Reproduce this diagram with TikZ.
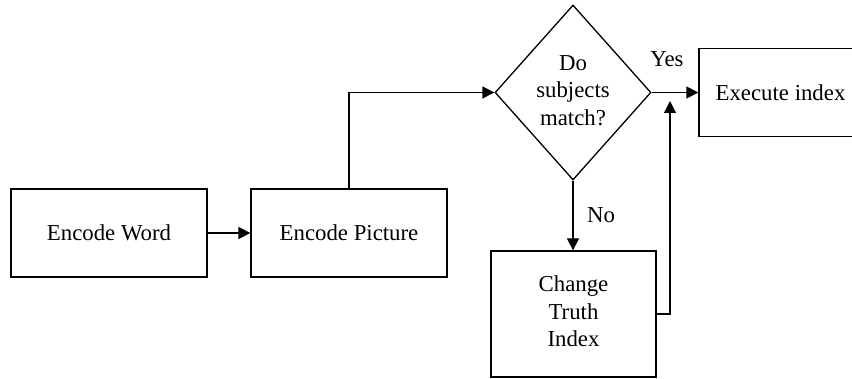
\documentclass[tikz,border=0pt]{standalone}
\usepackage{fontspec}
\setmainfont{Liberation Serif}
\usetikzlibrary{shapes.geometric,arrows.meta}
\newcommand\chartfont{\fontsize{22.8pt}{27.5pt}\selectfont}
% stacked lines, lifted slightly so the block sits a little above centre
\newcommand\liftlines[1]{\raisebox{4pt}{\begin{tabular}{@{}c@{}}#1\end{tabular}}}
\begin{document}
\begin{tikzpicture}[x=1pt,y=-1pt,line width=1.3pt,
  box/.style={draw,rectangle,inner sep=0pt,align=center,font=\chartfont},
  decision/.style={draw,diamond,inner sep=0pt,minimum width=156pt,minimum height=175pt,align=center,font=\chartfont},
  flow/.style={-{Triangle[length=12pt,width=12pt]}},
  tag/.style={font=\chartfont,inner sep=0pt}]
\useasboundingbox (0,0) rectangle (852,379);

\node[box,minimum width=196pt,minimum height=88pt] (ew) at (109,233) {Encode Word};
\node[box,minimum width=196pt,minimum height=88pt] (ep) at (349,233) {Encode Picture};
\node[decision] (dm) at (573,92.5) {\liftlines{Do\\subjects\\match?}};
\node[box,minimum width=163pt,minimum height=88pt] (ex) at (780.5,92.5) {Execute index};
\node[box,minimum width=165pt,minimum height=126pt] (ct) at (573.5,314) {\liftlines{Change\\Truth\\Index}};
\coordinate (fb) at (670,101);

\draw[flow] (ew) -- (ep);
\draw[flow] (ep.north) |- (dm.west);
\draw[flow] (dm.east) -- (ex.west);
\draw[flow] (dm.south) -- (dm.south |- ct.north);
\draw[flow] (ct.east) -| (fb);

\node[tag] (yes) at (667,59) {Yes};
\node[tag] (no) at (601,215) {No};
\end{tikzpicture}
\end{document}
